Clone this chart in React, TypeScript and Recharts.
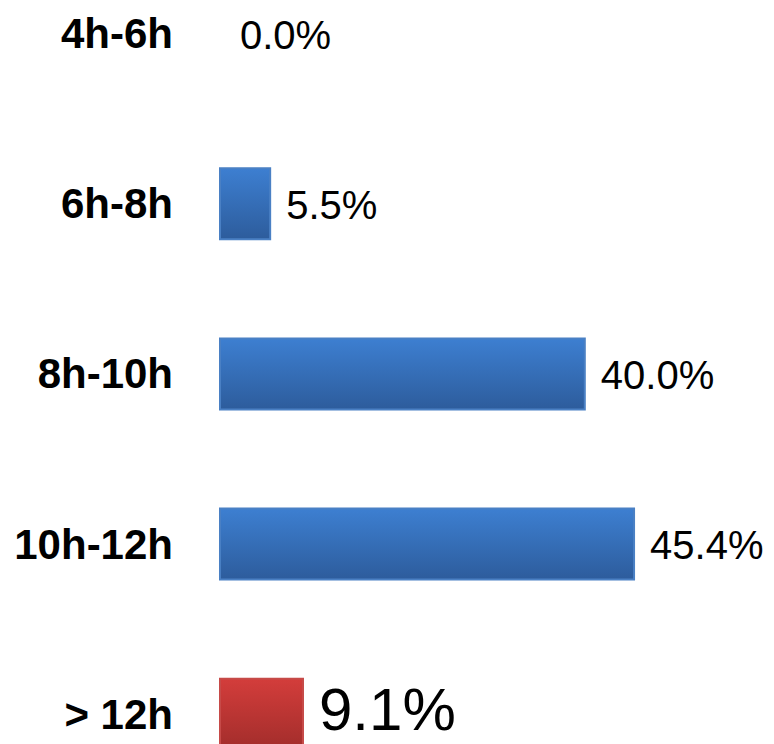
import { BarChart, Bar, XAxis, YAxis, Cell, LabelList } from 'recharts';

// hours worked per day, share of respondents (%)
const categories = ['4h-6h', '6h-8h', '8h-10h', '10h-12h', '> 12h'];
const shares = [0.0, 5.5, 40.0, 45.4, 9.1];
const highlighted = '> 12h';

const data = categories.map((name, i) => ({ name, value: shares[i] }));

const FONT = '"Liberation Sans", Arial, sans-serif';

const renderValue = (props: any) => {
  const { x = 0, y = 0, width = 0, height = 0, value = 0 } = props;
  const v = Number(value);
  const big = categories[shares.indexOf(v)] === highlighted;
  return (
    <text
      x={Number(x) + (v > 0 ? Number(width) + 16 : 20)}
      y={Number(y) + Number(height) / 2 + (big ? -5 : 1)}
      dominantBaseline="central"
      fontFamily={FONT}
      fontSize={big ? 60 : 40}
      fill="#000"
    >
      {`${v.toFixed(1)}%`}
    </text>
  );
};

export default function App() {
  return (
    <div style={{ position: 'absolute', left: 0, top: 0, width: 774, height: 744, overflow: 'hidden', background: '#fff' }}>
      <div style={{ marginTop: -52 }}>
        <BarChart
          width={774}
          height={851}
          data={data}
          layout="vertical"
          margin={{ top: 0, right: 98, bottom: 0, left: 0 }}
        >
          <defs>
            <linearGradient id="blueFill" x1="0" y1="0" x2="0" y2="1">
              <stop offset="0%" stopColor="#3d7fd1" />
              <stop offset="100%" stopColor="#2d5c9c" />
            </linearGradient>
            <linearGradient id="redFill" x1="0" y1="0" x2="0" y2="1">
              <stop offset="0%" stopColor="#d33d3b" />
              <stop offset="100%" stopColor="#a22d2b" />
            </linearGradient>
          </defs>
          <XAxis type="number" domain={[0, 50]} hide />
          <YAxis
            type="category"
            dataKey="name"
            width={220}
            axisLine={false}
            tickLine={false}
            tickSize={0}
            tickMargin={47}
            interval={0}
            tick={{ fontFamily: FONT, fontSize: 42, fontWeight: 'bold', fill: '#000' }}
          />
          <Bar dataKey="value" barSize={71} minPointSize={1} isAnimationActive={false} strokeWidth={2}>
            {data.map((d, i) => (
              <Cell
                key={`cell-${i}`}
                fill={d.value === 0 ? 'none' : d.name === highlighted ? 'url(#redFill)' : 'url(#blueFill)'}
                stroke={d.value === 0 ? 'none' : d.name === highlighted ? '#c64a48' : '#4a80c4'}
              />
            ))}
            <LabelList dataKey="value" content={renderValue} />
          </Bar>
        </BarChart>
      </div>
    </div>
  );
}
